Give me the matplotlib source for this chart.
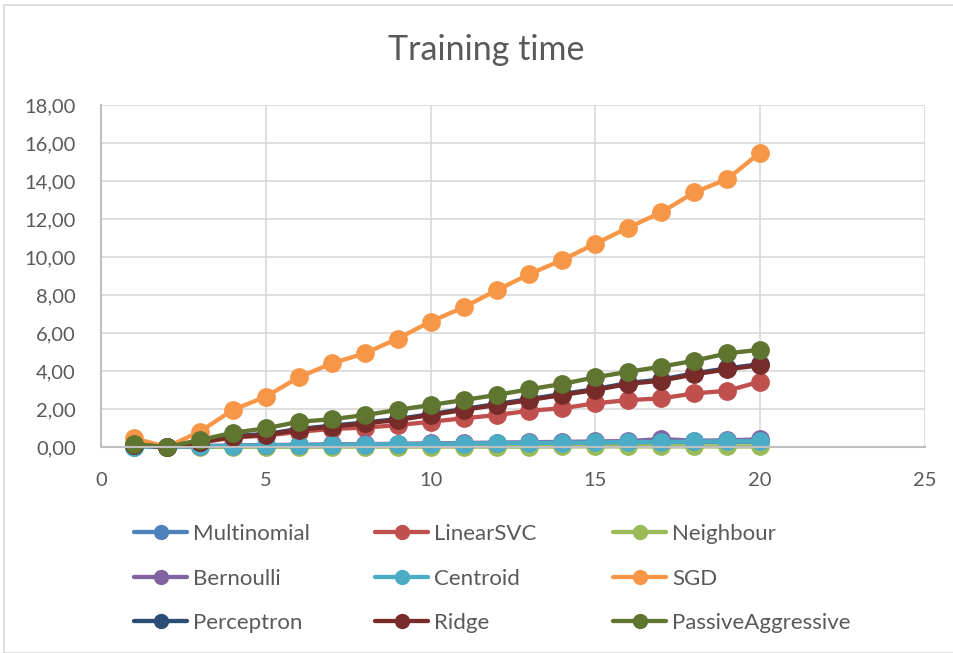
import numpy as np
import matplotlib.pyplot as plt
from matplotlib.ticker import FuncFormatter, MultipleLocator
from matplotlib.patches import Rectangle

plt.rcParams['font.family'] = ['Lato', 'DejaVu Sans']

x = list(range(1, 21))

names = ['Multinomial', 'LinearSVC', 'Neighbour',
         'Bernoulli', 'Centroid', 'SGD',
         'Perceptron', 'Ridge', 'PassiveAggressive']

multinomial = [0.02, 0.01, 0.03, 0.05, 0.06, 0.08, 0.09, 0.10, 0.12, 0.13,
               0.15, 0.16, 0.18, 0.19, 0.21, 0.22, 0.24, 0.25, 0.27, 0.28]
linearsvc = [0.10, 0.00, 0.22, 0.50, 0.60, 0.80, 0.95, 1.02, 1.15, 1.33,
             1.51, 1.68, 1.91, 2.04, 2.30, 2.47, 2.56, 2.82, 2.96, 3.44]
neighbour = [0.01, 0.00, 0.01, 0.01, 0.01, 0.01, 0.02, 0.02, 0.02, 0.02,
             0.02, 0.02, 0.02, 0.03, 0.03, 0.03, 0.03, 0.03, 0.03, 0.03]
bernoulli = [0.03, 0.01, 0.05, 0.08, 0.10, 0.12, 0.14, 0.15, 0.17, 0.19,
             0.21, 0.23, 0.25, 0.27, 0.29, 0.31, 0.42, 0.33, 0.35, 0.40]
centroid = [0.02, 0.01, 0.04, 0.06, 0.08, 0.10, 0.11, 0.13, 0.15, 0.16,
            0.18, 0.20, 0.21, 0.23, 0.24, 0.26, 0.27, 0.29, 0.30, 0.31]
sgd = [0.46, 0.00, 0.81, 1.95, 2.65, 3.67, 4.40, 4.93, 5.70, 6.60,
       7.35, 8.25, 9.10, 9.85, 10.70, 11.55, 12.35, 13.40, 14.10, 15.50]
perceptron = [0.12, 0.00, 0.28, 0.58, 0.68, 0.95, 1.12, 1.29, 1.47, 1.73,
              2.00, 2.26, 2.52, 2.79, 3.05, 3.37, 3.55, 3.88, 4.14, 4.36]
ridge = [0.10, 0.00, 0.25, 0.54, 0.63, 0.90, 1.07, 1.24, 1.42, 1.68,
         1.95, 2.21, 2.47, 2.74, 3.00, 3.32, 3.49, 3.82, 4.09, 4.30]
passive = [0.15, 0.00, 0.37, 0.75, 0.98, 1.33, 1.46, 1.68, 1.95, 2.21,
           2.47, 2.74, 3.04, 3.32, 3.67, 3.96, 4.23, 4.54, 4.93, 5.12]

series = [multinomial, linearsvc, neighbour, bernoulli, centroid, sgd,
          perceptron, ridge, passive]
colors = ['#4F81BD', '#C0504D', '#9BBB59', '#8064A2', '#4BACC6', '#F79646',
          '#2C4D75', '#772C2A', '#5F7530']

W, H = 954, 653
fig = plt.figure(figsize=(W / 100, H / 100), dpi=100)
fig.patches.append(Rectangle((4 / W, 0), 1, 1 - 5 / H, transform=fig.transFigure,
                             fill=False, edgecolor='#D9D9D9', linewidth=1.2))
ax = fig.add_axes([101 / W, 1 - 447 / H, 824 / W, 342 / H])

lines = []
for vals, name, c in zip(series, names, colors):
    ln, = ax.plot(x, vals, color=c, linewidth=3.1, marker='o', markersize=12.5,
                  label=name, solid_capstyle='round', clip_on=False)
    lines.append(ln)

ax.set_xlim(0, 25)
ax.set_ylim(0, 18)
ax.xaxis.set_major_locator(MultipleLocator(5))
ax.yaxis.set_major_locator(MultipleLocator(2))
ax.yaxis.set_major_formatter(FuncFormatter(lambda v, p: f'{v:.2f}'.replace('.', ',')))
ax.grid(True, color='#D9D9D9', linewidth=1.2)
ax.set_axisbelow(True)
for s in ['top', 'right']:
    ax.spines[s].set_visible(False)
for s in ['left', 'bottom']:
    ax.spines[s].set_color('#BFBFBF')
    ax.spines[s].set_linewidth(1.5)
ax.tick_params(length=0, labelsize=14.5, colors='#595959')
ax.tick_params(axis='y', pad=18)
ax.tick_params(axis='x', pad=18)

fig.text(486 / W, 1 - 50 / H, 'Training time', ha='center', va='center',
         fontsize=24.5, color='#595959')

# legend: three columns, placed individually like Excel does
col_x = [123, 364, 602]
for c in range(3):
    hs = [lines[c], lines[c + 3], lines[c + 6]]
    fig.legend(handles=hs, loc='upper left', bbox_to_anchor=(col_x[c] / W, 1 - 513 / H),
               frameon=False, fontsize=16, labelcolor='#595959',
               handlelength=2.4, handletextpad=0.27, labelspacing=1.1,
               borderpad=0, markerscale=0.8)

fig.savefig('out.png', dpi=100)
